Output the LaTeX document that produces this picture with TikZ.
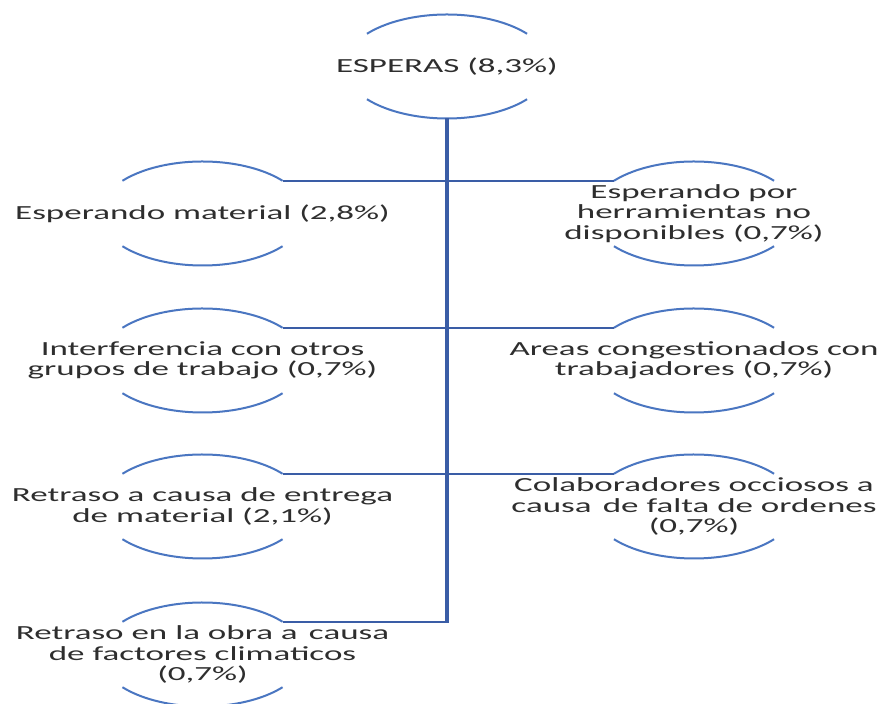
\documentclass[tikz,border=0pt]{standalone}
\usepackage{fontspec}
\setmainfont{Carlito}[FakeStretch=1.75]
\definecolor{rimblue}{HTML}{4A76C1}
\definecolor{linkblue}{HTML}{3A5DA6}
\definecolor{textgray}{HTML}{2E2E2E}

\tikzset{
  lbl/.style={align=center, inner sep=0pt, text=textgray,
              font=\fontsize{20}{20.5}\selectfont},
  rim/.style={draw=rimblue, line width=2pt},
  link/.style={draw=linkblue, line width=2.3pt},
  trunk/.style={draw=linkblue, line width=4.6pt},
}

% a label framed by the upper and lower arcs of an ellipse;
% (name-tl) and (name-tr) are the ends of the upper arc
\newcommand\capnode[4]{%
  \node[lbl] (#1) at (#2,#3) {#4};
  \coordinate (#1-tl) at ([shift={(141:103pt and 52pt)}]#1.center);
  \coordinate (#1-tr) at ([shift={(39:103pt and 52pt)}]#1.center);
  \coordinate (#1-bot) at ([shift={(0pt,-52pt)}]#1.center);
  \draw[rim] (#1-tl) arc[start angle=141, end angle=39, x radius=103pt, y radius=52pt];
  \draw[rim] ([shift={(219:103pt and 52pt)}]#1.center)
     arc[start angle=219, end angle=321, x radius=103pt, y radius=52pt];
}

\begin{document}
\begin{tikzpicture}[x=1pt, y=1pt]
  \fill[white] (0,0) rectangle (884,704);
  \useasboundingbox (0,0) rectangle (884,704);

  % root
  \capnode{root}{447}{637.5}{ESPERAS (8,3\%)}

  % left column
  \capnode{l1}{202.5}{490.5}{Esperando material (2,8\%)}
  \capnode{l2}{202.5}{343.5}{Interferencia con otros\\grupos de trabajo (0,7\%)}
  \capnode{l3}{202.5}{197.5}{Retraso a causa de entrega\\de material (2,1\%)}
  \capnode{l4}{202.5}{49.5}{Retraso en la obra a\, causa\\de factores climaticos\\(0,7\%)}

  % right column
  \capnode{r1}{694}{490.5}{Esperando por\\herramientas no\\disponibles (0,7\%)}
  \capnode{r2}{694}{343.5}{Areas congestionados con\\trabajadores (0,7\%)}
  \capnode{r3}{694}{197.5}{Colaboradores occiosos a\\causa\, de falta de ordenes\\(0,7\%)}

  % trunk and branches
  \coordinate (trunkend) at (root-bot |- l4-tr);
  \draw[link] (l1-tr) -- (r1-tl);
  \draw[link] (l2-tr) -- (r2-tl);
  \draw[link] (l3-tr) -- (r3-tl);
  \draw[link] (trunkend) -- (l4-tr);
  \draw[trunk] (root-bot) -- ([yshift=-1.1pt]trunkend);
\end{tikzpicture}
\end{document}
